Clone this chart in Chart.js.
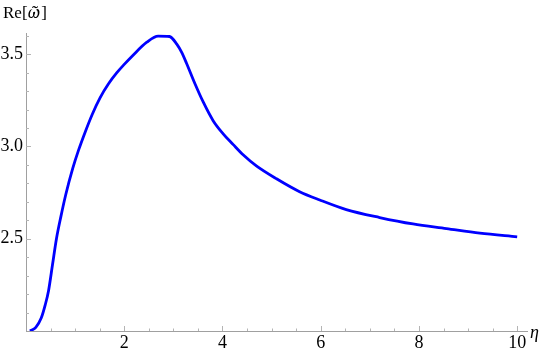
<!DOCTYPE html>
<html>
<head>
<meta charset="utf-8">
<script src="https://cdn.jsdelivr.net/npm/chart.js@4.4.0/dist/chart.umd.min.js"></script>
<style>
  html, body { margin: 0; padding: 0; background: #fff; }
  #wrap { width: 545px; height: 353px; }
</style>
</head>
<body>
<div id="wrap"><canvas id="chartId"></canvas></div>
<script>
// values
var eta = [0.08, 0.2, 0.31, 0.39, 0.46, 0.54, 0.62, 0.71, 0.81, 0.95, 1.07, 1.2, 1.35, 1.51, 1.68, 1.85, 2.0, 2.18, 2.46, 2.69, 2.92, 3.07, 3.17, 3.27, 3.44, 3.61, 3.81, 4.01, 4.22, 4.42, 4.69, 5.1, 5.57, 5.98, 6.52, 7.2, 7.88, 8.56, 9.24, 10.0]
var reOmega = [2.0, 2.02, 2.07, 2.14, 2.22, 2.36, 2.5, 2.62, 2.74, 2.88, 2.98, 3.075, 3.175, 3.265, 3.34, 3.4, 3.445, 3.495, 3.565, 3.598, 3.596, 3.555, 3.51, 3.45, 3.34, 3.24, 3.14, 3.07, 3.01, 2.955, 2.895, 2.825, 2.755, 2.71, 2.658, 2.615, 2.58, 2.555, 2.53, 2.51]
var xLabels = [2, 4, 6, 8, 10]
var yLabels = [2.5, 3.0, 3.5]

var serif = 'Liberation Serif'
Chart.defaults.font.family = serif

function isLabel(list, v) {
    return list.some(function (l) { return Math.abs(l - v) < 1e-6 })
}

// Mathematica style ticks pointing into the plot
var innerTicks = {
    id: 'innerTicks',
    beforeDatasetsDraw: function (chart) {
        var ctx = chart.ctx
        var xs = chart.scales.x, ys = chart.scales.y
        var area = chart.chartArea
        ctx.save()
        ctx.strokeStyle = '#b4b4b4'
        ctx.lineWidth = 1
        xs.ticks.forEach(function (t) {
            if (t.value <= 0) return
            var px = Math.round(xs.getPixelForValue(t.value)) + 0.5
            var len = isLabel(xLabels, t.value) ? 5 : 2.5
            ctx.beginPath()
            ctx.moveTo(px, area.bottom)
            ctx.lineTo(px, area.bottom - len)
            ctx.stroke()
        })
        ys.ticks.forEach(function (t) {
            if (t.value <= 2.0001) return
            var py = Math.round(ys.getPixelForValue(t.value)) + 0.5
            var len = isLabel(yLabels, t.value) ? 5 : 3
            ctx.beginPath()
            ctx.moveTo(area.left, py)
            ctx.lineTo(area.left + len, py)
            ctx.stroke()
        })
        ctx.restore()
    },
    afterDraw: function (chart) {
        var ctx = chart.ctx
        ctx.save()
        ctx.fillStyle = '#000'
        ctx.textBaseline = 'alphabetic'
        ctx.textAlign = 'left'
        // Re[ω̃] : omega+tilde from Noto Serif, which stacks the accent
        var x = 3, base = 18
        ctx.font = '17px ' + serif
        ctx.fillText('Re[', x, base)
        x += ctx.measureText('Re[').width
        ctx.font = 'italic 16px "Noto Serif"'
        ctx.fillText('ω̃', x, base)
        x += ctx.measureText('ω̃').width + 1
        ctx.font = '17px ' + serif
        ctx.fillText(']', x, base)
        ctx.font = 'italic 18px ' + serif
        ctx.fillText('η', 530, 338)
        ctx.restore()
    }
}

var chrt = document.getElementById('chartId').getContext('2d')

var reChart = new Chart(chrt, {
    type: 'scatter',
    data: {
        datasets: [{
            label: 'Re',
            data: eta.map(function (e, i) { return { x: e, y: reOmega[i] } }),
            showLine: true,
            borderColor: '#0000ff',
            borderWidth: 2.8,
            pointRadius: 0,
            cubicInterpolationMode: 'monotone',
            fill: false
        }]
    },
    options: {
        responsive: true,
        maintainAspectRatio: false,
        animation: false,
        layout: {
            padding: { top: 33, right: 18, left: 0, bottom: 0 }
        },
        plugins: {
            legend: { display: false },
            tooltip: { enabled: false }
        },
        scales: {
            x: {
                type: 'linear',
                min: 0,
                max: 10.2,
                grid: { display: false, drawTicks: false },
                border: { display: true, color: '#a0a0a0', width: 1 },
                ticks: {
                    stepSize: 0.5,
                    includeBounds: false,
                    autoSkip: false,
                    maxRotation: 0,
                    padding: 1,
                    color: '#000',
                    font: { family: serif, size: 18 },
                    callback: function (v) { return isLabel(xLabels, v) ? String(v) : '' }
                },
                afterFit: function (s) { s.height = 22 }
            },
            y: {
                type: 'linear',
                min: 2.0,
                max: 3.615,
                grid: { display: false, drawTicks: false },
                border: { display: true, color: '#a0a0a0', width: 1 },
                ticks: {
                    stepSize: 0.1,
                    includeBounds: false,
                    autoSkip: false,
                    padding: 3,
                    color: '#000',
                    font: { family: serif, size: 18 },
                    callback: function (v) { return isLabel(yLabels, v) ? v.toFixed(1) : '' }
                },
                afterFit: function (s) { s.width = 26 }
            }
        }
    },
    plugins: [innerTicks]
})
</script>
</body>
</html>
